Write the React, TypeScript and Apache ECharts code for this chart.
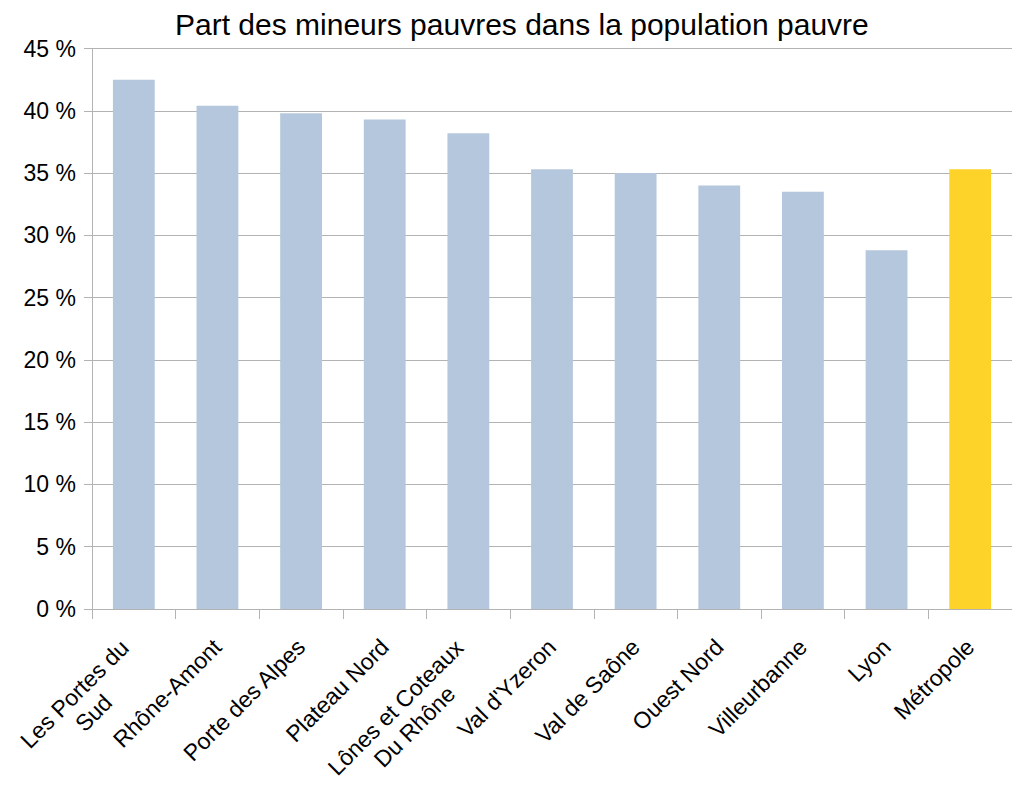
import React, { useEffect, useRef } from "react";
import * as echarts from "echarts";

const title = "Part des mineurs pauvres dans la population pauvre";
const categories = [
  "Les Portes du\nSud",
  "Rhône-Amont",
  "Porte des Alpes",
  "Plateau Nord",
  "Lônes et Coteaux\nDu Rhône",
  "Val d'Yzeron",
  "Val de Saône",
  "Ouest Nord",
  "Villeurbanne",
  "Lyon",
  "Métropole",
];
const values = [42.5, 40.4, 39.8, 39.3, 38.2, 35.3, 35.0, 34.0, 33.5, 28.8, 35.3];
const highlighted = ["Métropole"];

const FONT = "Liberation Sans, Arial, sans-serif";
const LABEL_SIZE = 23;
const LINE_H = 27;

export default function App() {
  const ref = useRef<HTMLDivElement>(null);
  useEffect(() => {
    document.body.style.margin = "0";
    if (!ref.current) return;
    const chart = echarts.init(ref.current, null, { renderer: "svg" });
    const canvas = document.createElement("canvas");
    const ctx = canvas.getContext("2d")!;
    ctx.font = `${LABEL_SIZE}px 'Liberation Sans'`;
    const richMap: any = {
      e: { fontSize: 10, fontFamily: FONT, lineHeight: 15, color: "transparent" },
    };
    categories.forEach((c, i) => {
      const lines = c.split("\n");
      if (lines.length > 1) {
        const w = Math.max(...lines.map((l) => ctx.measureText(l).width)) + 2;
        richMap["r" + i] = {
          width: w,
          align: "center",
          fontSize: LABEL_SIZE,
          fontFamily: FONT,
          color: "#000",
          lineHeight: LINE_H,
          padding: [0, 6, 0, 0],
        };
      }
    });
    chart.setOption({
      animation: false,
      title: {
        text: title,
        left: 170,
        top: 4,
        textStyle: { fontSize: 30, fontWeight: "normal", fontFamily: FONT, color: "#000" },
      },
      grid: {
        left: 92,
        right: 0,
        top: 48.5,
        bottom: 178,
        containLabel: false,
        outerBoundsMode: "none",
      },
      xAxis: {
        type: "category",
        data: categories,
        axisLine: { lineStyle: { color: "#b3b3b3", width: 1 } },
        axisTick: { show: true, length: 10, alignWithLabel: false, lineStyle: { color: "#b3b3b3" } },
        axisLabel: {
          rotate: 45,
          interval: 0,
          margin: 34,
          fontSize: LABEL_SIZE,
          fontFamily: FONT,
          color: "#000",
          lineHeight: LINE_H,
          rich: richMap,
          formatter: (v: string, idx: number) => {
            const lines = v.split("\n");
            if (lines.length === 1) return v;
            return "{e| }\n" + lines.map((l) => `{r${idx}|${l}}`).join("\n");
          },
        },
      },
      yAxis: {
        type: "value",
        min: 0,
        max: 45,
        interval: 5,
        axisLine: { show: true, lineStyle: { color: "#b3b3b3", width: 1 } },
        axisTick: { show: true, length: 8, lineStyle: { color: "#b3b3b3" } },
        splitLine: { show: true, lineStyle: { color: "#b3b3b3", width: 1 } },
        axisLabel: {
          formatter: "{value} %",
          fontSize: LABEL_SIZE,
          fontFamily: FONT,
          color: "#000",
          margin: 16,
        },
      },
      series: [
        {
          type: "bar",
          barWidth: "50%",
          data: values.map((v, i) => ({
            value: v,
            itemStyle: { color: highlighted.includes(categories[i]) ? "#fdd32a" : "#b4c7dc" },
          })),
        },
      ],
    });
    return () => chart.dispose();
  }, []);
  return <div ref={ref} style={{ width: 1012, height: 787 }} />;
}
